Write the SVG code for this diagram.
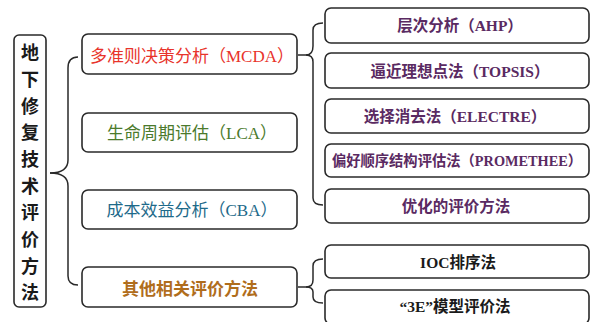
<svg xmlns="http://www.w3.org/2000/svg" width="591" height="322" viewBox="0 0 591 322">
<style>
.box{fill:#fff;stroke:#2a2a2a;stroke-width:1.6}
.br{fill:none;stroke:#2a2a2a;stroke-width:1.5}
text{font-family:"Liberation Serif","Noto Sans CJK SC",serif;text-anchor:middle;dominant-baseline:central}
.l2{font-size:17px}
.l3{font-size:15.5px;font-weight:bold;fill:#5a2a62}
.l3s{font-size:14.3px}
.blk{fill:#1a1a1a}
</style>
<rect width="591" height="322" fill="#fff"/>
<g id="connectors">
<path class="br" d="M50,173 C60,173 68,170 68,160 L68,68 C68,60 72,57 78,57"/>
<path class="br" d="M68,186 L68,276 C68,282 72,285 78,285"/>
<path class="br" d="M298,55 L306,55 C311,55 313,52 313,46 L313,30 C313,25 317,23 323,23"/>
<path class="br" d="M313,62 L313,198 C313,203 317,205 323,205"/>
<path class="br" d="M298,287 L306,287 C311,287 313,284 313,280 L313,266 C313,261 317,259 323,259"/>
<path class="br" d="M313,292 L313,297 C313,301 317,303 323,303"/>
<path class="br" d="M306,55 C311,55 313,58 313,62"/>
<path class="br" d="M306,287 C311,287 313,289 313,292"/>
<path class="br" d="M50,173 C60,173 68,176 68,186"/>
</g>
<g id="root">
<rect class="box" x="14" y="35" width="32" height="272" rx="5"/>
<text x="30" y="53" font-size="18" font-weight="bold" class="blk">地</text>
<text x="30" y="80" font-size="18" font-weight="bold" class="blk">下</text>
<text x="30" y="107" font-size="18" font-weight="bold" class="blk">修</text>
<text x="30" y="133" font-size="18" font-weight="bold" class="blk">复</text>
<text x="30" y="160" font-size="18" font-weight="bold" class="blk">技</text>
<text x="30" y="187" font-size="18" font-weight="bold" class="blk">术</text>
<text x="30" y="213" font-size="18" font-weight="bold" class="blk">评</text>
<text x="30" y="240" font-size="18" font-weight="bold" class="blk">价</text>
<text x="30" y="267" font-size="18" font-weight="bold" class="blk">方</text>
<text x="30" y="293" font-size="18" font-weight="bold" class="blk">法</text>
</g>
<g id="mcda">
<rect class="box" x="82" y="34" width="215" height="40" rx="6"/>
<text class="l2" x="192" y="56" fill="#e8332b">多准则决策分析（MCDA）</text>
</g>
<g id="lca">
<rect class="box" x="82" y="113" width="215" height="39" rx="6"/>
<text class="l2" x="192" y="133" fill="#4b7a2c">生命周期评估（LCA）</text>
</g>
<g id="cba">
<rect class="box" x="82" y="190" width="215" height="39" rx="6"/>
<text class="l2" x="192" y="210" fill="#1e6a8a">成本效益分析（CBA）</text>
</g>
<g id="other">
<rect class="box" x="82" y="267" width="215" height="40" rx="6"/>
<text class="l2" x="190" y="289" fill="#b06d1c" font-weight="bold">其他相关评价方法</text>
</g>
<g id="ahp">
<rect class="box" x="325" y="8" width="264" height="35" rx="6"/>
<text class="l3" x="460" y="25">层次分析（AHP）</text>
</g>
<g id="topsis">
<rect class="box" x="325" y="53" width="264" height="35" rx="6"/>
<text class="l3" x="460" y="71">逼近理想点法（TOPSIS）</text>
</g>
<g id="electre">
<rect class="box" x="325" y="99" width="264" height="34" rx="6"/>
<text class="l3" x="455" y="116">选择消去法（ELECTRE）</text>
</g>
<g id="promethee">
<rect class="box" x="325" y="144" width="264" height="33" rx="6"/>
<text class="l3 l3s" x="457" y="161">偏好顺序结构评估法（PROMETHEE）</text>
</g>
<g id="opt">
<rect class="box" x="325" y="189" width="264" height="34" rx="6"/>
<text class="l3" x="456" y="206">优化的评价方法</text>
</g>
<g id="ioc">
<rect class="box" x="325" y="245" width="264" height="33" rx="6"/>
<text class="l3 blk" x="458" y="262">IOC排序法</text>
</g>
<g id="e3">
<rect class="box" x="325" y="290" width="264" height="34" rx="6"/>
<text class="l3 blk" x="455" y="306">“3E”模型评价法</text>
</g>
</svg>
